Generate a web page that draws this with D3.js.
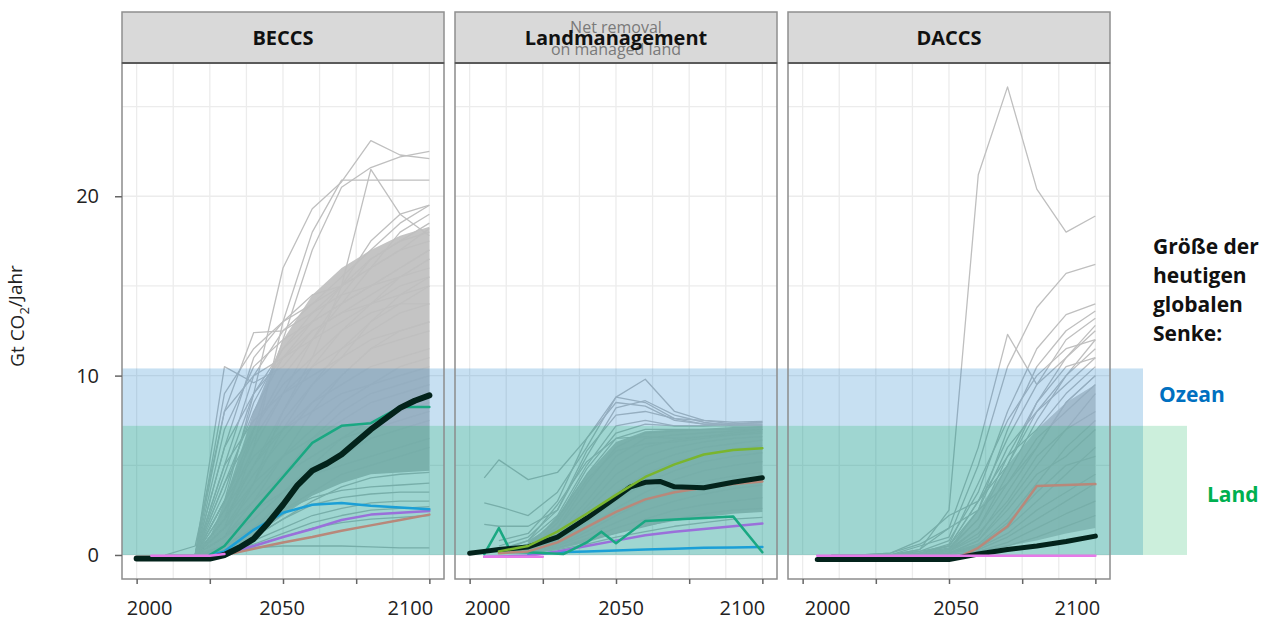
<!DOCTYPE html>
<html>
<head>
<meta charset="utf-8">
<script src="https://cdn.jsdelivr.net/npm/d3@7"></script>
<style>
	body { margin: 0; background: #fff; }
	svg { display: block; font-family: "Open Sans", "Noto Sans", sans-serif; }
</style>
</head>
<body>
<div id="chart"></div>
<script>
// ---- Data (Gt CO2 / Jahr) ----
var panelTitles = ["BECCS", "Landmanagement", "DACCS"];
var yTicks = [0, 10, 20];
var xTicks = [2000, 2025, 2050, 2075, 2100];
var xTickLabels = [2000, 2050, 2100];

var sinkNames = ["Ozean", "Land"];
var sinkValues = [10.4, 7.2];

// scenario years for the grey scenario lines
var beccsYears = [2010, 2020, 2030, 2040, 2050, 2060, 2070, 2080, 2090, 2100];
var landYears = [2005, 2010, 2020, 2030, 2040, 2050, 2060, 2070, 2080, 2090, 2100];
var daccsYears = [2010, 2020, 2030, 2040, 2050, 2060, 2070, 2080, 2090, 2100];

// densest part of the scenario cloud
var coreYears = [2020, 2025, 2030, 2040, 2050, 2060, 2070, 2080, 2090, 2100];
var beccsCoreLow = [0, 0, 0.2, 1, 2.2, 3.3, 4, 4.5, 4.6, 4.7];
var beccsCoreHigh = [0, 1, 3, 8, 12, 14.5, 16, 17, 17.8, 18.3];
var landCoreLow = [0.1, 0.2, 0.3, 0.7, 1.2, 1.6, 1.9, 2.1, 2.3, 2.4];
var landCoreHigh = [0.8, 1.3, 2.2, 4.5, 6.3, 6.9, 7.0, 7.0, 7.1, 7.2];
var daccsCoreLow = [0, 0, 0, 0, 0, 0.2, 0.5, 0.8, 1.2, 1.5];
var daccsCoreHigh = [0, 0, 0, 0.1, 0.4, 2.5, 5, 7, 8.5, 9.5];

var beccsGrey = [
	[0, 0, 3, 9, 16, 19.3, 20.8, 23.1, 22.3, 22.1],
	[0, 0, 2, 7, 12, 17, 20.5, 21.6, 22.2, 22.5],
	[0, 0, 1, 4, 8, 11, 15, 21.5, 19, 17.8],
	[0, 0, 1.5, 6, 13, 18, 20.9, 20.9, 20.9, 20.9],
	[0, 0, 10.5, 9.6, 10.5, 12.5, 13.5, 14.5, 15.5, 16.5],
	[0, 0.5, 8, 12.4, 12.5, 13.5, 14.5, 15, 15.5, 16],
	[0, 0, 7, 10.5, 12, 13, 14, 15, 16, 17],
	[0, 0, 9, 11.5, 13, 14, 15, 16.5, 17.5, 18.5],
	[0, 0, 6, 9, 11.5, 13.5, 15, 16, 17, 17.5],
	[0, 0, 8, 10, 11, 12, 13, 14, 15, 15.5],
	[0, 0, 5, 10, 12.5, 14, 15.5, 17, 18.5, 19.5],
	[0, 0, 4, 8, 11, 13, 15, 17.5, 19, 19.5],
	[0, 0, 3, 7, 10, 12, 14, 16, 18, 19],
	[0, 0, 6, 11, 13, 14.5, 15, 16, 17, 18.2],
	[0, 0, 2.5, 6, 9, 12, 14.5, 16.5, 17.5, 18],
	[0, 0, 3.5, 8.5, 11.5, 13, 14, 15, 16, 17],
	[0, 0, 2, 5, 8, 10.5, 12.5, 14, 15.5, 16.5],
	[0, 0, 4.5, 9, 11, 12.5, 13.5, 14, 14.5, 15],
	[0, 0, 1.5, 4, 7, 9.5, 11.5, 13, 14, 15],
	[0, 0, 3, 6.5, 9, 10.5, 11.5, 12.5, 13.5, 14],
	[0, 0, 2, 4.5, 6.5, 8.5, 10, 11.5, 12.5, 13],
	[0, 0, 5, 7.5, 9, 10, 11, 12, 12.5, 13],
	[0, 0, 1, 3, 5.5, 8, 10, 11.5, 12, 12.5],
	[0, 0, 2.5, 5, 7, 8.5, 9.5, 10.5, 11, 11.5],
	[0, 0, 1.5, 3.5, 5.5, 7, 8.5, 9.5, 10.5, 11],
	[0, 0, 3, 5.5, 7, 8, 9, 9.5, 10, 10.5],
	[0, 0, 1, 2.5, 4.5, 6.5, 8, 9, 9.5, 10],
	[0, 0, 2, 4, 5.5, 6.5, 7.5, 8.5, 9, 9.5],
	[0, 0, 1, 2, 3.5, 5, 6.5, 7.5, 8, 8.5],
	[0, 0, 1.5, 3, 4.5, 5.5, 6.5, 7, 7.5, 8],
	[0, 0, 0.5, 1.5, 3, 4.5, 5.5, 6.5, 7, 7.5],
	[0, 0, 1, 2.5, 3.5, 4.5, 5, 5.5, 6, 6.5],
	[0, 0, 0.5, 1.5, 2.5, 3.5, 4.5, 5, 5.5, 6],
	[0, 0, 0.5, 1, 2, 3, 3.8, 4.3, 4.5, 4.6],
	[0, 0, 0.5, 1.5, 2.5, 3.2, 3.6, 3.8, 3.9, 4.0],
	[0, 0, 0.3, 1, 2, 2.8, 3.2, 3.4, 3.5, 3.5],
	[0, 0, 0.3, 0.8, 1.5, 2.2, 2.6, 2.9, 3.0, 3.0],
	[0, 0, 0.2, 0.6, 1.2, 1.8, 2.2, 2.5, 2.6, 2.7],
	[0, 0, 0.2, 0.5, 1, 1.5, 1.8, 2, 2.1, 2.2],
	[0, 0, 0.1, 0.4, 0.5, 0.5, 0.5, 0.45, 0.4, 0.4],
	[0, 0, 2, 5, 7.5, 9.5, 11, 13, 14.5, 15.5],
	[0, 0, 4, 7, 9.5, 11, 12.5, 13.5, 14, 14]
];

var landGrey = [
	[4.3, 5.3, 4.2, 4.6, 6.5, 8.8, 9.8, 8.0, 7.5, 7.4, 7.45],
	[2.9, 2.7, 2.2, 3.5, 6, 8.8, 8.5, 7.6, 7.3, 7.3, 7.3],
	[1.7, 1.6, 1.6, 2.5, 5.5, 8.2, 8.6, 7.8, 7.4, 7.2, 7.2],
	[null, 0.8, 1.2, 3, 6.5, 8.5, 8.3, 7.5, 7.3, 7.3, 7.4],
	[null, 0.5, 1, 2.5, 5.8, 7.8, 8, 7.6, 7.5, 7.3, 7.3],
	[null, 0.3, 0.8, 2.2, 5, 7.2, 7.5, 7.2, 7.2, 7.2, 7.2],
	[null, 0.2, 0.6, 2, 4.5, 6.5, 7, 7, 7, 7.1, 7.1],
	[null, 0.2, 0.5, 1.5, 4, 6, 6.8, 6.9, 7, 7, 7],
	[null, 0.1, 0.5, 1.5, 3.5, 5.5, 6.5, 6.7, 6.8, 6.9, 7],
	[null, 0.1, 0.4, 1.2, 3, 5, 6, 6.4, 6.6, 6.7, 6.8],
	[null, 0.1, 0.4, 1, 2.7, 4.5, 5.5, 6, 6.3, 6.5, 6.6],
	[null, 0.1, 0.3, 1, 2.5, 4, 5, 5.6, 6, 6.2, 6.4],
	[null, 0.1, 0.3, 0.8, 2, 3.5, 4.5, 5.2, 5.6, 5.9, 6.1],
	[null, 0.1, 0.3, 0.8, 1.8, 3, 4, 4.7, 5.2, 5.5, 5.7],
	[null, 0.1, 0.2, 0.6, 1.5, 2.6, 3.5, 4.2, 4.7, 5, 5.2],
	[null, 0.1, 0.2, 0.5, 1.3, 2.2, 3, 3.6, 4.1, 4.4, 4.6],
	[null, 0.1, 0.2, 0.5, 1.1, 1.8, 2.5, 3, 3.4, 3.7, 3.9],
	[null, 0.1, 0.2, 0.4, 0.9, 1.5, 2, 2.5, 2.8, 3, 3.2],
	[null, 0.1, 0.2, 0.4, 0.8, 1.2, 1.6, 2, 2.3, 2.5, 2.6],
	[null, 0.1, 0.1, 0.3, 0.6, 1, 1.3, 1.6, 1.8, 2, 2.1],
	[null, 0.1, 0.5, 2, 4.8, 6.8, 7.3, 7.2, 7.2, 7.3, 7.4],
	[null, 0.2, 0.8, 2.8, 5.2, 6.5, 6.6, 6.5, 6.6, 6.8, 7],
	[null, 0.1, 0.3, 1.8, 4.2, 5.8, 6.2, 6.3, 6.5, 6.7, 6.9]
];

var daccsGrey = [
	[0, 0, 0, 0.3, 2.5, 21.2, 26.1, 20.4, 18, 18.9],
	[0, 0, 0, 0.5, 1, 5, 10.5, 13.8, 15.7, 16.2],
	[0, 0, 0, 0.3, 1.5, 6, 12.3, 9.5, 11, 12.5],
	[0, 0, 0, 0.2, 0.8, 3.5, 8, 11.5, 13.4, 14],
	[0, 0, 0, 0.2, 0.5, 2.5, 7, 10.5, 12.5, 13.6],
	[0, 0, 0, 0.1, 0.5, 3, 6.5, 9.5, 12, 13.2],
	[0, 0, 0, 0.1, 0.4, 2, 5.5, 8.5, 11, 12.8],
	[0, 0, 0, 0.1, 0.3, 1.5, 4.5, 7.5, 10, 12],
	[0, 0, 0, 0, 0.3, 2.5, 6, 8, 9.5, 11],
	[0, 0, 0, 0.1, 0.5, 3, 5.5, 7, 9, 10.5],
	[0, 0, 0, 0, 0.2, 1, 3.5, 6, 8.5, 10],
	[0, 0, 0, 0, 0.2, 1.5, 4, 6.5, 8, 9.5],
	[0, 0, 0, 0, 0.1, 0.8, 2.8, 5, 7, 9],
	[0, 0, 0, 0, 0.2, 1.2, 3, 5.5, 7, 8],
	[0, 0, 0, 0, 0.1, 0.6, 2, 4, 6, 7.5],
	[0, 0, 0, 0, 0.1, 0.8, 2.5, 4.5, 5.5, 7],
	[0, 0, 0, 0, 0.1, 0.5, 1.5, 3, 4.5, 6],
	[0, 0, 0, 0, 0.1, 0.5, 1.8, 3.5, 5, 5.5],
	[0, 0, 0, 0, 0.1, 0.4, 1.2, 2.5, 3.5, 4.5],
	[0, 0, 0, 0, 0.1, 0.3, 1, 2, 3, 4],
	[0, 0, 0, 0, 0, 0.2, 0.7, 1.5, 2.3, 3],
	[0, 0, 0, 0, 0, 0.2, 0.5, 1, 1.6, 2.2],
	[0, 0, 0.1, 0.8, 2.2, 3, 5, 8, 10, 11.5],
	[0, 0, 0.1, 0.6, 1.5, 2.5, 4, 6, 8.5, 10],
	[0, 0, 0, 0.1, 0.6, 4, 7.5, 10, 11.5, 12],
	[0, 0, 0, 0, 0.3, 2, 5, 8.5, 10.5, 11]
];

// highlighted pathways, [year, value]
var beccsBrown = [[2030, 0], [2040, 0.35], [2050, 0.7], [2060, 1.0], [2070, 1.35], [2080, 1.65], [2090, 1.95], [2100, 2.25]];
var beccsPurple = [[2025, -0.05], [2030, 0.1], [2040, 0.5], [2050, 1.0], [2060, 1.45], [2070, 1.95], [2080, 2.25], [2090, 2.35], [2100, 2.45]];
var beccsBlue = [[2025, 0], [2030, 0.2], [2040, 1.4], [2050, 2.35], [2060, 2.8], [2070, 2.9], [2080, 2.75], [2090, 2.65], [2100, 2.55]];
var beccsTeal = [[2025, 0], [2030, 0.5], [2040, 2.45], [2050, 4.35], [2060, 6.25], [2070, 7.2], [2080, 7.35], [2090, 8.25], [2100, 8.25]];
var beccsBlack = [[2000, -0.2], [2025, -0.2], [2030, 0], [2035, 0.4], [2040, 0.9], [2045, 1.8], [2050, 2.8], [2055, 3.9], [2060, 4.7], [2065, 5.1], [2070, 5.6], [2075, 6.3], [2080, 7.0], [2085, 7.6], [2090, 8.2], [2095, 8.6], [2100, 8.9]];
var beccsPink = [[2005, -0.05], [2025, -0.05], [2030, 0.05]];

var landBlue = [[2020, 0], [2030, 0.15], [2040, 0.2], [2050, 0.25], [2060, 0.3], [2070, 0.35], [2080, 0.4], [2090, 0.42], [2100, 0.45]];
var landPurple = [[2005, -0.1], [2020, -0.05], [2030, 0.2], [2040, 0.5], [2050, 0.8], [2060, 1.1], [2070, 1.3], [2080, 1.45], [2090, 1.6], [2100, 1.75]];
var landTeal = [[2005, 0.05], [2010, 1.5], [2014, 0.2], [2032, 0.05], [2040, 0.7], [2045, 1.3], [2050, 0.65], [2060, 1.9], [2090, 2.15], [2100, 0.15]];
var landBrown = [[2010, 0.1], [2020, 0.2], [2030, 0.7], [2040, 1.55], [2050, 2.4], [2060, 3.1], [2070, 3.5], [2080, 3.75], [2090, 3.95], [2100, 4.1]];
var landBlack = [[2000, 0.1], [2005, 0.2], [2010, 0.3], [2020, 0.45], [2030, 1.0], [2040, 2.05], [2050, 3.2], [2055, 3.8], [2060, 4.05], [2065, 4.1], [2070, 3.8], [2080, 3.75], [2090, 4.05], [2100, 4.3]];
var landGreen = [[2010, 0.2], [2020, 0.5], [2030, 1.3], [2040, 2.3], [2050, 3.35], [2060, 4.35], [2070, 5.05], [2080, 5.6], [2090, 5.85], [2100, 5.95]];
var landPink = [[2005, -0.1], [2025, -0.1]];

var daccsBrown = [[2055, 0], [2060, 0.4], [2070, 1.6], [2080, 3.85], [2090, 3.9], [2100, 3.95]];
var daccsBlack = [[2005, -0.25], [2050, -0.25], [2055, -0.1], [2060, 0.05], [2070, 0.3], [2080, 0.5], [2090, 0.75], [2100, 1.05]];
var daccsPink = [[2005, -0.05], [2100, -0.05]];

// ---- Styles ----
var colors = {
	black: "#03231b", teal: "#1aa882", blue: "#1b9fd6", purple: "#9a70da",
	brown: "#b8887a", green: "#7ab52e", pink: "#e67ae8", grey: "#bfbfbf", core: "#c4c4c4"
};
var sinkColors = ["#0072c6", "#00b050"];
var sinkOpacity = [0.22, 0.2];
var sinkRight = [1143, 1187];
// the figure's year labels do not sit exactly under their ticks
var xLabelShift = [[13, -1, -19], [18, 5, -20], [25, 7, -18]];

// ---- Layout ----
var panelLeft = [122, 455, 788];
var panelWidth = 322;
var stripTop = 12, plotTop = 63, plotBottom = 579;

var svg = d3.select("#chart").append("svg")
	.attr("width", 1269)
	.attr("height", 621);

var y = d3.scaleLinear().domain([-1.34, 27.43]).range([plotBottom, plotTop]);

var gBack = svg.append("g");
var gLines = svg.append("g");
var gBands = svg.append("g");
var gHigh = svg.append("g");
var gFront = svg.append("g");

var panels = [
	{ years: beccsYears, grey: beccsGrey, low: beccsCoreLow, high: beccsCoreHigh, coreOpacity: 1,
		series: [[beccsBrown, "brown", 2.5], [beccsPurple, "purple", 2.5], [beccsBlue, "blue", 2.5],
			[beccsTeal, "teal", 2.5], [beccsBlack, "black", 6], [beccsPink, "pink", 2.5]] },
	{ years: landYears, grey: landGrey, low: landCoreLow, high: landCoreHigh, coreOpacity: 1,
		series: [[landBlue, "blue", 2.5], [landPurple, "purple", 2.5], [landTeal, "teal", 2.5],
			[landBrown, "brown", 2.5], [landBlack, "black", 5], [landGreen, "green", 2.5], [landPink, "pink", 2.5]] },
	{ years: daccsYears, grey: daccsGrey, low: daccsCoreLow, high: daccsCoreHigh, coreOpacity: 0.8,
		series: [[daccsBrown, "brown", 2.5], [daccsBlack, "black", 5], [daccsPink, "pink", 2.5]] }
];

panels.forEach(function(p, i) {
	var left = panelLeft[i];
	var x = d3.scaleLinear().domain([1995, 2105]).range([left, left + panelWidth]);

	// background grid
	var grid = gBack.append("g");
	grid.selectAll(".vg").data(d3.range(2000, 2100.1, 12.5)).enter().append("line")
		.attr("x1", function(d) { return x(d); }).attr("x2", function(d) { return x(d); })
		.attr("y1", plotTop).attr("y2", plotBottom)
		.attr("stroke", "#ececec").attr("stroke-width", 1.3);
	grid.selectAll(".hg").data(d3.range(0, 26, 5)).enter().append("line")
		.attr("x1", left).attr("x2", left + panelWidth)
		.attr("y1", function(d) { return y(d); }).attr("y2", function(d) { return y(d); })
		.attr("stroke", "#ececec").attr("stroke-width", 1.3);

	// dense cloud of scenarios
	var core = coreYears.map(function(yr, j) { return [yr, p.low[j], p.high[j]]; });
	gLines.append("path")
		.datum(core)
		.attr("d", d3.area()
			.x(function(d) { return x(d[0]); })
			.y0(function(d) { return y(d[1]); })
			.y1(function(d) { return y(d[2]); }))
		.attr("fill", colors.core)
		.attr("fill-opacity", p.coreOpacity);

	var line = d3.line()
		.defined(function(d) { return d[1] != null; })
		.x(function(d) { return x(d[0]); })
		.y(function(d) { return y(d[1]); });

	gLines.append("g").selectAll("path")
		.data(p.grey.map(function(vals) { return p.years.map(function(yr, j) { return [yr, vals[j]]; }); }))
		.enter().append("path")
		.attr("d", line)
		.attr("fill", "none")
		.attr("stroke", colors.grey)
		.attr("stroke-width", 1.3)
		.attr("stroke-linejoin", "round");

	p.series.forEach(function(s) {
		gHigh.append("path")
			.datum(s[0])
			.attr("d", line)
			.attr("fill", "none")
			.attr("stroke", colors[s[1]])
			.attr("stroke-width", s[2])
			.attr("stroke-linejoin", "round")
			.attr("stroke-linecap", "round");
	});

	// frame + strip
	gBack.append("rect")
		.attr("x", left).attr("y", stripTop)
		.attr("width", panelWidth).attr("height", plotTop - stripTop)
		.attr("fill", "#d9d9d9").attr("stroke", "#8f8f8f").attr("stroke-width", 1.5);
	gFront.append("rect")
		.attr("x", left).attr("y", plotTop)
		.attr("width", panelWidth).attr("height", plotBottom - plotTop)
		.attr("fill", "none").attr("stroke", "#8c8c8c").attr("stroke-width", 1.5);
	gFront.append("line")
		.attr("x1", left).attr("x2", left + panelWidth)
		.attr("y1", plotTop).attr("y2", plotTop)
		.attr("stroke", "#5a5a5a").attr("stroke-width", 2);

	// x axis: ticks from the axis, labels placed as in the figure
	var gx = gFront.append("g")
		.attr("transform", "translate(0," + plotBottom + ")")
		.call(d3.axisBottom(x).tickValues(xTicks).tickSize(5).tickFormat(""));
	gx.select(".domain").remove();
	gx.selectAll(".tick line").attr("stroke", "#666").attr("stroke-width", 1.5);

	gFront.append("g").selectAll("text")
		.data(xTickLabels).enter().append("text")
		.attr("x", function(d, j) { return x(d) + xLabelShift[i][j]; })
		.attr("y", 615)
		.attr("text-anchor", "middle")
		.attr("font-size", 20)
		.attr("fill", "#222")
		.text(function(d) { return String(d); });
});

// y axis on the first panel
var yAxis = d3.axisLeft(y).tickValues(yTicks).tickSize(7).tickPadding(16);
var gy = gFront.append("g")
	.attr("transform", "translate(" + panelLeft[0] + ",0)")
	.call(yAxis);
gy.select(".domain").remove();
gy.selectAll(".tick line").attr("stroke", "#666").attr("stroke-width", 1.5);
gy.selectAll(".tick text").attr("font-size", 20).attr("fill", "#222")
	.attr("font-family", "'Open Sans', 'Noto Sans', sans-serif");

var yTitle = gFront.append("text")
	.attr("transform", "translate(24," + 316 + ") rotate(-90)")
	.attr("text-anchor", "middle")
	.attr("font-size", 19)
	.attr("fill", "#222");
yTitle.append("tspan").text("Gt CO");
yTitle.append("tspan").attr("font-size", 13).attr("dy", "0.35em").text("2");
yTitle.append("tspan").attr("dy", "-0.35em").text("/Jahr");

// today's global sinks
gBands.selectAll("rect").data(sinkValues).enter().append("rect")
	.attr("x", panelLeft[0])
	.attr("width", function(d, i) { return sinkRight[i] - panelLeft[0]; })
	.attr("y", function(d) { return y(d); })
	.attr("height", function(d) { return y(0) - y(d); })
	.attr("fill", function(d, i) { return sinkColors[i]; })
	.attr("fill-opacity", function(d, i) { return sinkOpacity[i]; });

// strip titles
gFront.append("g").selectAll("text")
	.data(["Net removal", "on managed land"]).enter().append("text")
	.attr("x", panelLeft[1] + panelWidth / 2)
	.attr("y", function(d, i) { return 33 + i * 22; })
	.attr("text-anchor", "middle")
	.attr("font-size", 16)
	.attr("fill", "#7a7a7a")
	.text(function(d) { return d; });

gFront.append("g").selectAll("text")
	.data(panelTitles).enter().append("text")
	.attr("x", function(d, i) { return panelLeft[i] + panelWidth / 2; })
	.attr("y", 45)
	.attr("text-anchor", "middle")
	.attr("font-size", 20)
	.attr("font-weight", "bold")
	.attr("fill", "#111")
	.text(function(d) { return d; });

// legend on the right
gFront.append("g").selectAll("text")
	.data(["Größe der", "heutigen", "globalen", "Senke:"]).enter().append("text")
	.attr("x", 1153)
	.attr("y", function(d, i) { return 254 + i * 29; })
	.attr("font-size", 21)
	.attr("font-weight", "bold")
	.attr("fill", "#111")
	.text(function(d) { return d; });

gFront.append("text").attr("x", 1159).attr("y", 402)
	.attr("font-size", 21).attr("font-weight", "bold").attr("fill", "#0070c0")
	.text(sinkNames[0]);
gFront.append("text").attr("x", 1207).attr("y", 502)
	.attr("font-size", 21).attr("font-weight", "bold").attr("fill", "#00b050")
	.text(sinkNames[1]);
</script>
</body>
</html>
